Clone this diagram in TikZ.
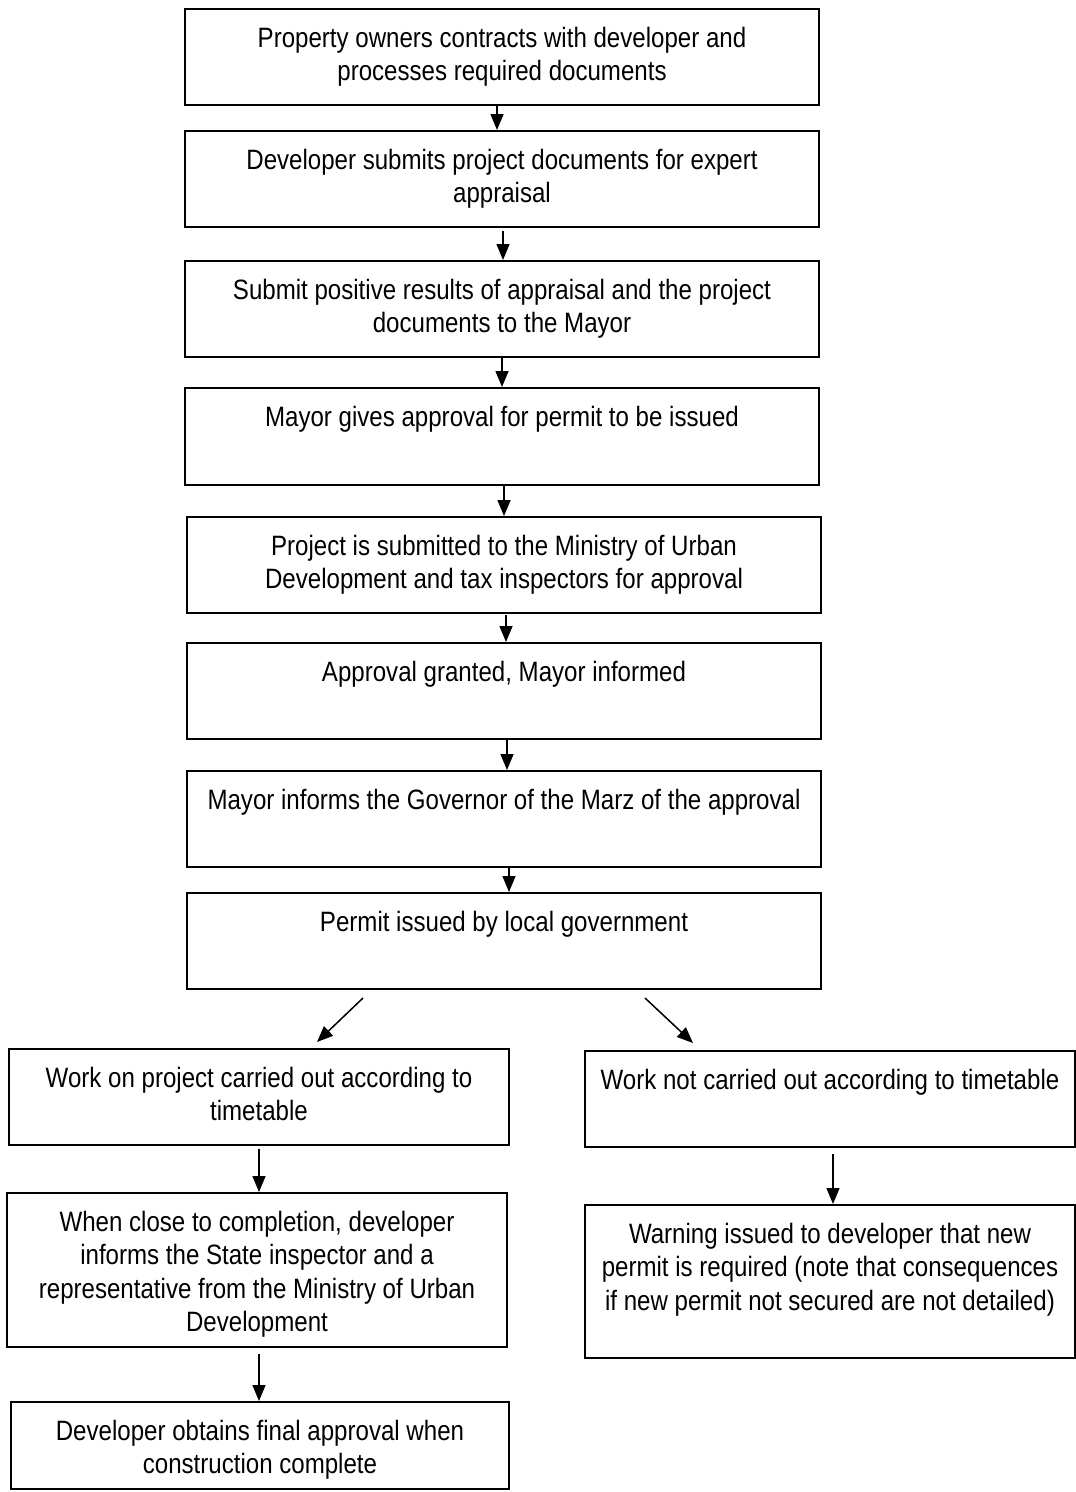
\documentclass[tikz,border=0pt]{standalone}
\usepackage{fontspec}
\setmainfont[FakeStretch=0.86]{Liberation Sans}
\usetikzlibrary{arrows.meta,calc,fit}
\begin{document}
\begin{tikzpicture}[x=1pt,y=-1pt,
  box/.style={draw, line width=2pt, inner sep=0pt},
  txt/.style={anchor=north, align=center, inner sep=0pt, font=\fontsize{28}{33.5}\selectfont},
  arr/.style={line width=1.5pt, -{Triangle[length=16pt,width=13pt]}}]
\useasboundingbox (0,0) rectangle (1076,1492);
\newcommand\fl{\rule{0pt}{39pt}}
% boxes
\node[box, fit={(185,9) (819,105)}] (b1) {};
\node[box, fit={(185,131) (819,227)}] (b2) {};
\node[box, fit={(185,261) (819,357)}] (b3) {};
\node[box, fit={(185,388) (819,485)}] (b4) {};
\node[box, fit={(187,517) (821,613)}] (b5) {};
\node[box, fit={(187,643) (821,739)}] (b6) {};
\node[box, fit={(187,771) (821,867)}] (b7) {};
\node[box, fit={(187,893) (821,989)}] (b8) {};
\node[box, fit={(9,1049) (509,1145)}] (b9) {};
\node[box, fit={(585,1051) (1075,1147)}] (b10) {};
\node[box, fit={(7,1193) (507,1347)}] (b11) {};
\node[box, fit={(585,1205) (1075,1358)}] (b12) {};
\node[box, fit={(11,1402) (509,1489)}] (b13) {};
% texts
\node[txt] (t1) at (b1.north) {\fl Property owners contracts with developer and\\processes required documents};
\node[txt] (t2) at (b2.north) {\fl Developer submits project documents for expert\\appraisal};
\node[txt] (t3) at (b3.north) {\fl Submit positive results of appraisal and the project\\documents to the Mayor};
\node[txt] (t4) at (b4.north) {\fl Mayor gives approval for permit to be issued};
\node[txt] (t5) at (b5.north) {\fl Project is submitted to the Ministry of Urban\\Development and tax inspectors for approval};
\node[txt] (t6) at (b6.north) {\fl Approval granted, Mayor informed};
\node[txt] (t7) at (b7.north) {\fl Mayor informs the Governor of the Marz of the approval};
\node[txt] (t8) at (b8.north) {\fl Permit issued by local government};
\node[txt] (t9) at (b9.north) {\fl Work on project carried out according to\\timetable};
\node[txt] (t10) at (b10.north) {\fl Work not carried out according to timetable};
\node[txt] (t11) at (b11.north) {\fl When close to completion, developer\\informs the State inspector and a\\representative from the Ministry of Urban\\Development};
\node[txt] (t12) at (b12.north) {\fl Warning issued to developer that new\\permit is required (note that consequences\\if new permit not secured are not detailed)};
\node[txt] (t13) at (b13.north) {\fl Developer obtains final approval when\\construction complete};
% arrows
\draw[arr] ($(b1.south)+(-5,0)$) -- ($(b2.north)+(-5,0)$);
\draw[arr] ($(b2.south)+(1,3)$) -- ($(b3.north)+(1,0)$);
\draw[arr] (b3.south) -- (b4.north);
\draw[arr] ($(b4.south)+(2,0)$) -- ($(b5.north)+(0,0)$);
\draw[arr] ($(b5.south)+(2,1)$) -- ($(b6.north)+(2,0)$);
\draw[arr] ($(b6.south)+(3,0)$) -- ($(b7.north)+(3,0)$);
\draw[arr] ($(b7.south)+(5,0)$) -- ($(b8.north)+(5,0)$);
\draw[arr] ($(b8.south)+(-141,8)$) -- ($(b9.north)+(58,-6)$);
\draw[arr] ($(b8.south)+(141,8)$) -- ($(b10.north)+(-137,-7)$);
\draw[arr] ($(b9.south)+(0,3)$) -- (b9.south |- b11.north);
\draw[arr] ($(b10.south)+(3,6)$) -- ($(b12.north)+(3,0)$);
\draw[arr] ($(b11.south)+(2,6)$) -- ($(b11.south |- b13.north)+(2,0)$);
\end{tikzpicture}
\end{document}
